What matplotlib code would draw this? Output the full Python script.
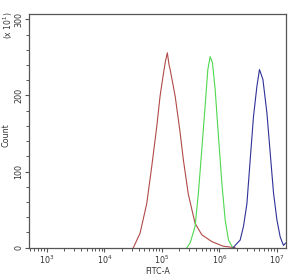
import matplotlib
matplotlib.use("Agg")
import matplotlib.pyplot as plt
from matplotlib.ticker import LogLocator, FixedLocator, NullFormatter, MultipleLocator

# Data (FITC-A intensity vs count/10)
red_x = [3.2e4, 4.19e4, 5.48e4, 6.70e4, 8.18e4, 9.34e4, 1.07e5, 1.16e5, 1.25e5, 1.34e5,
         1.40e5, 1.71e5, 2.08e5, 2.38e5, 2.90e5, 3.80e5, 4.97e5, 7.43e5, 1.17e6, 1.89e6]
red_y = [0, 19, 58, 107, 159, 199, 229, 245, 256, 240,
         234, 199, 152, 115, 70, 32, 17, 8, 2, 0]

green_x = [2.73e5, 3.11e5, 3.80e5, 4.34e5, 4.97e5, 5.68e5, 6.33e5, 6.94e5, 7.62e5, 8.49e5,
           9.69e5, 1.11e6, 1.27e6, 1.45e6, 1.66e6, 1.77e6]
green_y = [0, 6, 28, 72, 129, 186, 234, 251, 243, 208,
           146, 85, 36, 10, 2, 0]

blue_x = [1.75e6, 1.89e6, 2.31e6, 2.64e6, 3.03e6, 3.45e6, 3.94e6, 4.52e6, 5.01e6, 5.75e6,
          6.75e6, 7.71e6, 8.79e6, 1.01e7, 1.15e7, 1.31e7, 1.42e7]
blue_y = [0, 3, 10, 28, 58, 115, 172, 212, 234, 221,
          177, 124, 72, 36, 14, 3, 6]

x_major = [1e3, 1e4, 1e5, 1e6, 1e7]
x_labels = ["$10^3$", "$10^4$", "$10^5$", "$10^6$", "$10^7$"]
y_major = [0, 100, 200, 300]
y_labels = ["0", "100", "200", "300"]

fig = plt.figure(figsize=(2.91, 2.75), dpi=100)
ax = fig.add_axes([29/291, 1-247.7/275, (286-29)/291, (247.7-14)/275])

lw = 0.8
ax.plot(red_x, red_y, color="#b04a48", lw=lw)
ax.plot(green_x, green_y, color="#4ed84e", lw=lw)
ax.plot(blue_x, blue_y, color="#30309a", lw=lw)

ax.set_xscale("log")
ax.set_xlim(4.9e2, 1.45e7)
ax.set_ylim(0, 307)

ax.xaxis.set_major_locator(FixedLocator(x_major))
ax.set_xticklabels(x_labels)
ax.xaxis.set_minor_locator(LogLocator(base=10, subs=range(2, 10), numticks=20))
ax.xaxis.set_minor_formatter(NullFormatter())

ax.set_yticks(y_major)
ax.set_yticklabels(y_labels, rotation=90, va="center")
ax.yaxis.set_minor_locator(MultipleLocator(20))

for s in ax.spines.values():
    s.set_color("#555555")
    s.set_linewidth(0.9)

ax.tick_params(which="major", length=3, width=0.8, color="#555555",
               labelsize=5.8, labelcolor="#333333", pad=1.2)
ax.tick_params(which="minor", length=2, width=0.7, color="#555555")

ax.set_xlabel("FITC-A", fontsize=5.8, color="#333333")
ax.xaxis.set_label_coords(0.5, -(267 - 247.7) / 233.7)
ax.set_ylabel("Count", fontsize=5.8, color="#333333")
ax.yaxis.set_label_coords(-(29 - 10) / 257, 0.48)
fig.text(8/291, 1-25/275, "(x 10$^1$)", rotation=90, fontsize=5.5, color="#333333",
         ha="center", va="center")

fig.savefig("out.png", dpi=100)
